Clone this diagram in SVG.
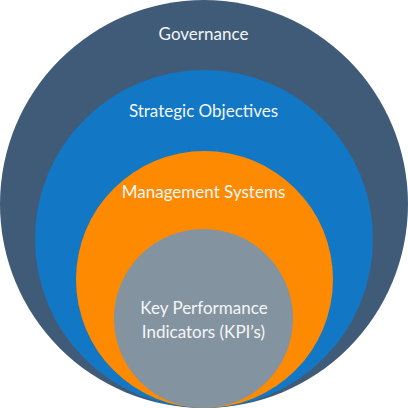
<svg xmlns="http://www.w3.org/2000/svg" width="408" height="408" viewBox="0 0 408 408">
<style>
text{font-family:Lato,"Open Sans","Liberation Sans",sans-serif;font-size:17px;fill:#f4f6f8;text-anchor:middle}
</style>
<g id="governance"><circle cx="204" cy="204" r="204" fill="#405b77"/><text x="203.5" y="40">Governance</text></g>
<g id="strategic"><circle cx="204" cy="239" r="169" fill="#1277c4"/><text x="203.5" y="117">Strategic Objectives</text></g>
<g id="management"><circle cx="204.5" cy="279.5" r="128.5" fill="#fd8a00"/><text x="203.5" y="198">Management Systems</text></g>
<g id="kpi"><circle cx="203.5" cy="318.5" r="89.5" fill="#8493a0"/><text x="204" y="314">Key Performance</text><text x="203.5" y="338">Indicators (KPI’s)</text></g>
</svg>
